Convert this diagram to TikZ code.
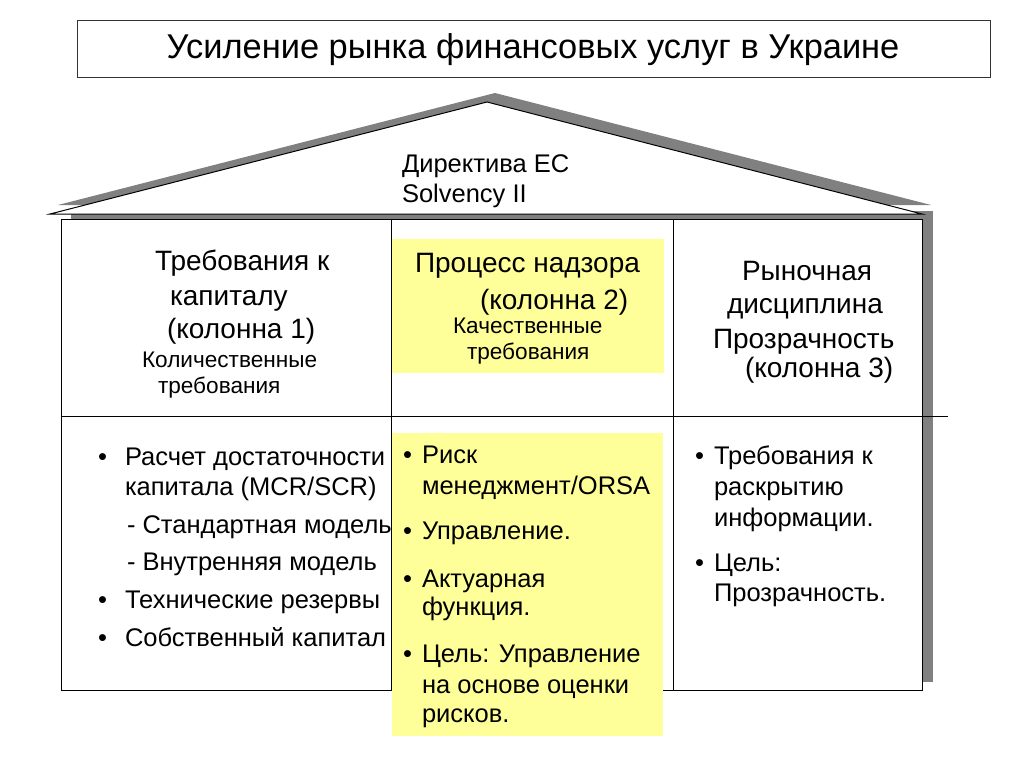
\documentclass[tikz,border=0pt]{standalone}
\usepackage{fontspec}
\setmainfont{Liberation Sans}
\definecolor{paleyellow}{HTML}{FFFF99}
\definecolor{shadowgray}{HTML}{808080}
\begin{document}
\begin{tikzpicture}[x=1pt,y=-1pt,
  txt/.style={anchor=base west, inner sep=0pt, outer sep=0pt},
  head/.style={txt, font=\fontsize{28}{32}\selectfont},
  small/.style={txt, font=\fontsize{22.6}{26}\selectfont},
  item/.style={txt, font=\fontsize{25.5}{29}\selectfont},
  rule/.style={draw=black, line width=1pt}]
\useasboundingbox (0,0) rectangle (1024,768);
\fill[white] (0,0) rectangle (1024,768);
% title
\node[draw=black!80, line width=1pt, minimum width=913pt, minimum height=57pt, inner sep=0pt, anchor=north west] (titlebox) at (77,20) {};
\node[anchor=base, font=\fontsize{34.4}{39}\selectfont, inner sep=0pt] (title) at (533,59) {Усиление рынка финансовых услуг в Украине};
% shadows
\fill[shadowgray] (71,211) rectangle (933,682);
\fill[shadowgray] (58,205) -- (495,93) -- (931,205) -- cycle;
% roof
\filldraw[fill=white, rule] (50,214) -- (487,102) -- (922,214) -- cycle;
% house body
\filldraw[fill=white, rule] (61,219) rectangle (922,690);
\draw[rule] (391,219) -- (391,690);
\draw[rule] (673,219) -- (673,690);
\draw[rule] (61,416) -- (948,416);
% yellow panels
\fill[paleyellow] (392,239) rectangle (664,373);
\fill[paleyellow] (392,433) rectangle (663,736);
% roof text
\node[item] (dir1) at (402,172) {Директива ЕС};
\node[item] (dir2) at (402,202) {Solvency II};
% column 1 header
\node[head] (c1a) at (155,270) {Требования к};
\node[head] (c1b) at (170,305) {капиталу};
\node[head] (c1c) at (167,338) {(колонна 1)};
\node[small] (c1d) at (142,367) {Количественные};
\node[small] (c1e) at (158,393) {требования};
% column 2 header
\node[head] (c2a) at (415,272) {Процесс надзора};
\node[head] (c2b) at (480,309) {(колонна 2)};
\node[small] (c2c) at (453,333) {Качественные};
\node[small] (c2d) at (467,359) {требования};
% column 3 header
\node[head] (c3a) at (742,280) {Рыночная};
\node[head] (c3b) at (727,313) {дисциплина};
\node[head] (c3c) at (713,348) {Прозрачность};
\node[head] (c3d) at (745,377) {(колонна 3)};
% column 1 items
\node[item] (b1) at (98,465) {•};
\node[item] (i1a) at (125,465) {Расчет достаточности};
\node[item] (i1b) at (125,495) {капитала (MCR/SCR)};
\node[item] (i1c) at (127,533) {- Стандартная модель};
\node[item] (i1d) at (127,570) {- Внутренняя модель};
\node[item] (b2) at (98,608) {•};
\node[item] (i1e) at (125,608) {Технические резервы};
\node[item] (b3) at (98,646) {•};
\node[item] (i1f) at (125,646) {Собственный капитал};
% column 2 items
\node[item] (b4) at (403,463) {•};
\node[item] (i2a) at (422,463) {Риск};
\node[item] (i2b) at (422,494) {менеджмент/ORSA};
\node[item] (b5) at (403,539) {•};
\node[item] (i2c) at (422,539) {Управление.};
\node[item] (b6) at (403,587) {•};
\node[item] (i2d) at (422,587) {Актуарная};
\node[item] (i2e) at (422,615) {функция.};
\node[item] (b7) at (403,662) {•};
\node[item] (i2f) at (422,662) {Цель: Управление};
\node[item] (i2g) at (422,693) {на основе оценки};
\node[item] (i2h) at (422,722) {рисков.};
% column 3 items
\node[item] (b8) at (695,464) {•};
\node[item] (i3a) at (714,464) {Требования к};
\node[item] (i3b) at (714,495) {раскрытию};
\node[item] (i3c) at (714,526) {информации.};
\node[item] (b9) at (695,571) {•};
\node[item] (i3d) at (714,571) {Цель:};
\node[item] (i3e) at (714,601) {Прозрачность.};
\end{tikzpicture}
\end{document}
